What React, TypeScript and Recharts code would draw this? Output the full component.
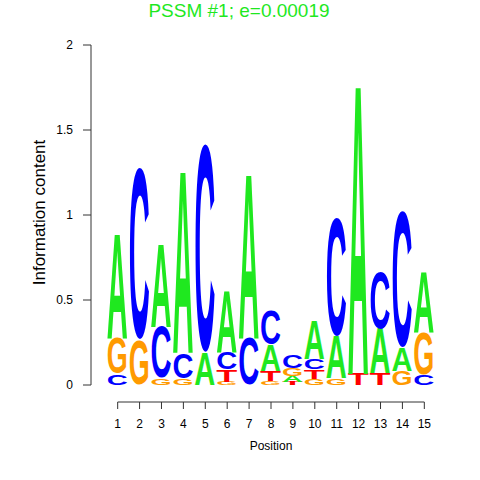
import React from "react";
import { Bar, BarChart, ReferenceLine, XAxis, YAxis } from "recharts";

// information content (bits) of each base at each motif position
const positions = [1, 2, 3, 4, 5, 6, 7, 8, 9, 10, 11, 12, 13, 14, 15];
const heightA = [0.605, 0, 0.48, 1.057, 0.19, 0.357, 0.958, 0.15, 0.035, 0.225, 0.25, 1.68, 0.26, 0.135, 0.35];
const heightC = [0.065, 1.017, 0.3, 0.15, 1.23, 0.1, 0.277, 0.205, 0.075, 0.065, 0.7, 0, 0.335, 0.8, 0.06];
const heightG = [0.21, 0.265, 0.04, 0.04, 0, 0.02, 0, 0.025, 0.045, 0.035, 0.04, 0, 0, 0.085, 0.25];
const heightT = [0, 0, 0, 0, 0, 0.07, 0, 0.06, 0.02, 0.055, 0, 0.065, 0.07, 0, 0];
const yTicks = [0, 0.5, 1, 1.5, 2];

const X_MIN = -0.218;
const X_MAX = 16.218;
const FONT = "'Liberation Sans', Arial, Helvetica, sans-serif";

const COLORS: Record<string, string> = {
  A: "#1fe81f",
  C: "#0000ff",
  G: "#ff9a00",
  T: "#ff0000",
};

// ink extent of each glyph in Liberation Sans Bold, in em
const METRICS: Record<string, { top: number; bottom: number }> = {
  A: { top: 0.688, bottom: 0 },
  C: { top: 0.701, bottom: -0.013 },
  G: { top: 0.701, bottom: -0.013 },
  T: { top: 0.688, bottom: 0 },
};

// each column: letters sorted so the smallest sits at the bottom
const rows = positions.map((pos, i) => {
  const stack = [
    { l: "A", v: heightA[i] },
    { l: "C", v: heightC[i] },
    { l: "G", v: heightG[i] },
    { l: "T", v: heightT[i] },
  ].sort((a, b) => a.v - b.v);
  const row: Record<string, number | string> = { pos };
  stack.forEach((s, k) => {
    row[`v${k}`] = s.v;
    row[`l${k}`] = s.l;
  });
  return row;
});

function Glyph(props: any) {
  const { x, y, width, height, ch } = props;
  if (!ch || !(height > 0.3)) return null;
  const m = METRICS[ch];
  const sy = height / ((m.top - m.bottom) * 100);
  const base = y + height + m.bottom * 100 * sy;
  return (
    <g transform={`translate(${x},${base}) scale(1,${sy})`}>
      <text
        x={0}
        y={0}
        fontSize={100}
        fontFamily={FONT}
        fontWeight="bold"
        fill={COLORS[ch]}
        textLength={width}
        lengthAdjust="spacingAndGlyphs"
      >
        {ch}
      </text>
    </g>
  );
}

const renderXLabel = (props: any) => {
  const { x, y, width } = props.viewBox;
  return (
    <text x={x + width / 2} y={y + 47.5} textAnchor="middle" fontSize={12} fill="#000">
      Position
    </text>
  );
};

const renderYLabel = (props: any) => {
  const { x, y, height } = props.viewBox;
  const cx = x + 39;
  const cy = y + height / 2 - 11;
  return (
    <text
      x={cx}
      y={cy}
      transform={`rotate(-90 ${cx} ${cy})`}
      textAnchor="middle"
      dominantBaseline="central"
      fontSize={17}
      fill="#000"
    >
      Information content
    </text>
  );
};

export default function App() {
  return (
    <div style={{ position: "absolute", left: 0, top: 0, width: 480, height: 480, background: "#fff", fontFamily: FONT }}>
      <div
        style={{
          position: "absolute",
          left: 0,
          top: 1,
          width: 478,
          textAlign: "center",
          fontSize: 19,
          lineHeight: "19px",
          color: COLORS.A,
        }}
      >
        PSSM #1; e=0.00019
      </div>
      <BarChart
        width={480}
        height={480}
        data={rows}
        margin={{ top: 45, right: 29, bottom: 30, left: 0 }}
        style={{ fontFamily: FONT }}
      >
        <XAxis
          type="number"
          dataKey="pos"
          domain={[X_MIN, X_MAX]}
          ticks={positions}
          interval={0}
          allowDataOverflow
          axisLine={false}
          tickSize={7}
          tickMargin={10}
          tickLine={{ stroke: "#333" }}
          tick={{ fontSize: 12, fill: "#000" }}
          height={48}
          label={{ value: "Position", content: renderXLabel }}
        />
        <YAxis
          type="number"
          domain={[-0.1, 2]}
          ticks={yTicks}
          interval={0}
          allowDataOverflow
          axisLine={false}
          tickSize={8}
          tickMargin={10}
          tickLine={{ stroke: "#333" }}
          tick={{ fontSize: 12, fill: "#000" }}
          width={91}
          label={{ value: "Information content", content: renderYLabel }}
        />
        <ReferenceLine
          segment={[
            { x: X_MIN, y: 0 },
            { x: X_MIN, y: 2 },
          ]}
          stroke="#333"
        />
        <ReferenceLine
          segment={[
            { x: 1, y: -0.1 },
            { x: 15, y: -0.1 },
          ]}
          stroke="#333"
        />
        {[0, 1, 2, 3].map((k) => (
          <Bar
            key={k}
            dataKey={`v${k}`}
            stackId="logo"
            barSize={21}
            isAnimationActive={false}
            shape={(p: any) => <Glyph {...p} ch={p.payload[`l${k}`]} />}
          />
        ))}
      </BarChart>
    </div>
  );
}
